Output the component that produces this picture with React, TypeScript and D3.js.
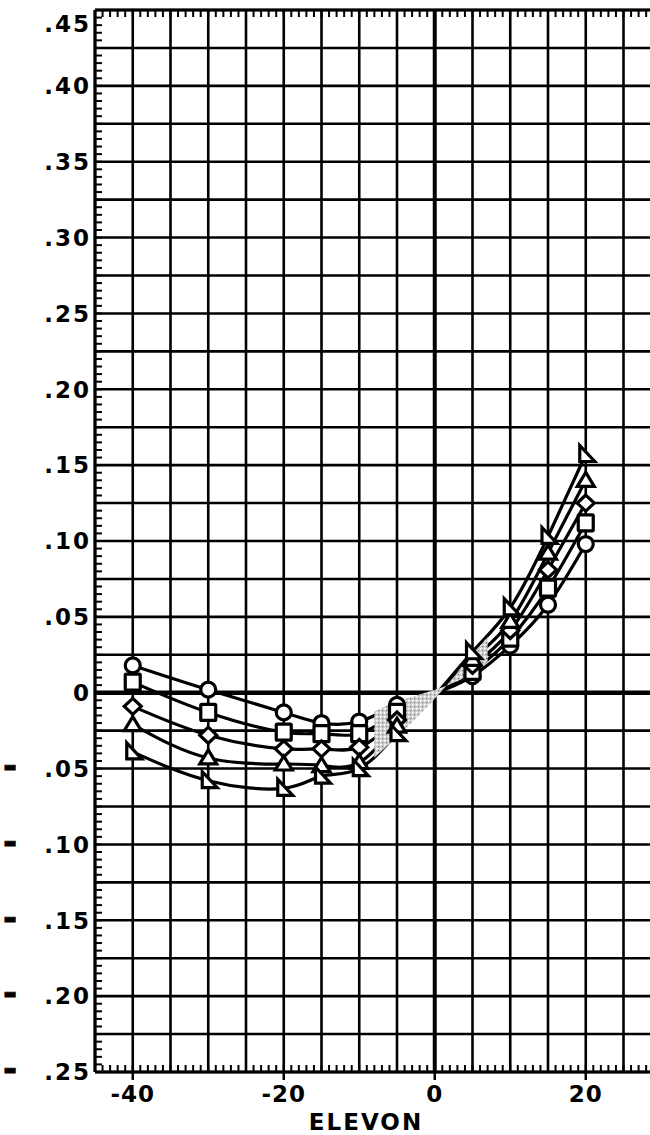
import React from 'react';
import * as d3 from 'd3';

const elevon = [-40, -30, -20, -15, -10, -5, 0, 5, 10, 15, 20];
const circleSeries = [0.018, 0.002, -0.013, -0.02, -0.019, -0.008, 0.0, 0.011, 0.031, 0.058, 0.098];
const squareSeries = [0.007, -0.013, -0.026, -0.027, -0.027, -0.013, -0.001, 0.014, 0.036, 0.069, 0.112];
const diamondSeries = [-0.009, -0.028, -0.037, -0.037, -0.036, -0.018, -0.001, 0.018, 0.041, 0.081, 0.125];
const triangleSeries = [-0.021, -0.043, -0.047, -0.048, -0.046, -0.022, -0.002, 0.022, 0.047, 0.092, 0.14];
const flagSeries = [-0.039, -0.058, -0.063, -0.055, -0.05, -0.027, -0.002, 0.027, 0.056, 0.103, 0.157];

const yTickValues = [0.45, 0.4, 0.35, 0.3, 0.25, 0.2, 0.15, 0.1, 0.05, 0, -0.05, -0.1, -0.15, -0.2, -0.25];
const yTickLabels = ['.45', '.40', '.35', '.30', '.25', '.20', '.15', '.10', '.05', '0', '-.05', '-.10', '-.15', '-.20', '-.25'];
const xTickValues = [-40, -20, 0, 20];
const xTickLabels = ['-40', '-20', '0', '20'];
const xTitle = 'ELEVON';

const W = 650;
const H = 1135;
const LEFT = 95;
const TOP = 10;
const BOTTOM = 1072;

const x = d3.scaleLinear().domain([-45, 30]).range([LEFT, LEFT + 75 * 7.55]);
const y = d3.scaleLinear().domain([-0.25, 0.45]).range([BOTTOM, TOP]);

const FONT = 'DejaVu Sans, sans-serif';

type Shape = 'circle' | 'square' | 'diamond' | 'triangle' | 'flag';

function Marker({ shape, cx, cy }: { shape: Shape; cx: number; cy: number }) {
  const sw = 3.2;
  const common = { fill: 'white', stroke: 'black', strokeWidth: sw };
  if (shape === 'circle') return <circle cx={cx} cy={cy} r={7.5} {...common} />;
  if (shape === 'square') return <rect x={cx - 7.5} y={cy - 8} width={15} height={16} rx={1} {...common} />;
  if (shape === 'diamond')
    return <path d={`M${cx},${cy - 8}L${cx + 8.5},${cy}L${cx},${cy + 8}L${cx - 8.5},${cy}Z`} {...common} />;
  if (shape === 'triangle')
    return <path d={`M${cx},${cy - 8}L${cx + 8.5},${cy + 6}L${cx - 8.5},${cy + 6}Z`} {...common} />;
  return <path d={`M${cx - 6},${cy - 9}L${cx - 6},${cy + 7}L${cx + 9},${cy + 7}Z`} {...common} />;
}

export default function App() {
  const series: { shape: Shape; values: number[] }[] = [
    { shape: 'circle', values: circleSeries },
    { shape: 'square', values: squareSeries },
    { shape: 'diamond', values: diamondSeries },
    { shape: 'triangle', values: triangleSeries },
    { shape: 'flag', values: flagSeries },
  ];
  const line = d3
    .line<[number, number]>()
    .x((d) => x(d[0]))
    .y((d) => y(d[1]))
    .curve(d3.curveNatural);

  const vGrid = d3.range(-45, 31, 5);
  const hGrid = d3.range(-0.25, 0.4501, 0.025);
  const xMinor = d3.range(-45, 31, 1);
  const yMinor = d3.range(-0.25, 0.4501, 0.005);

  const smearIdx = [4, 5, 6, 7, 8];
  const band = d3
    .area<number>()
    .x((i) => x(elevon[i]))
    .y0((i) => y(flagSeries[i]) + 3)
    .y1((i) => y(circleSeries[i]) - 3)
    .curve(d3.curveNatural);

  return (
    <svg width={W} height={H} style={{ position: 'absolute', left: 0, top: 0, background: 'white' }}>
      <defs>
        <pattern id="speck" width="4" height="4" patternUnits="userSpaceOnUse">
          <rect width="4" height="4" fill="#d0d0d0" />
          <rect x="0" y="0" width="1.5" height="1.5" fill="#ffffff" />
          <rect x="2" y="2" width="1.2" height="1.2" fill="#777" />
        </pattern>
        <clipPath id="smearClip">
          <rect x={x(-8)} y={0} width={x(7) - x(-8)} height={H} />
        </clipPath>
      </defs>
      <rect width={W} height={H} fill="white" />
      {vGrid.map((v) => (
        <line key={'v' + v} x1={x(v)} x2={x(v)} y1={y(0.45)} y2={y(-0.25)} stroke="black"
          strokeWidth={Math.abs(v) < 1e-9 ? 4 : 2.6} />
      ))}
      {hGrid.map((v) => (
        <line key={'h' + v.toFixed(3)} x1={LEFT} x2={W + 20} y1={y(v)} y2={y(v)} stroke="black"
          strokeWidth={Math.abs(v) < 1e-9 ? 4.5 : 2.6} />
      ))}
      {yMinor.map((v) => (
        <line key={'ym' + v.toFixed(3)} x1={LEFT} x2={LEFT + 7} y1={y(v)} y2={y(v)} stroke="black" strokeWidth={2} />
      ))}
      {xMinor.map((v) => (
        <g key={'xm' + v}>
          <line x1={x(v)} x2={x(v)} y1={y(0.45)} y2={y(0.45) + 7} stroke="black" strokeWidth={2} />
          <line x1={x(v)} x2={x(v)} y1={y(-0.25)} y2={y(-0.25) - 7} stroke="black" strokeWidth={2} />
        </g>
      ))}
      {xTickValues.map((v) => (
        <line key={'xt' + v} x1={x(v)} x2={x(v)} y1={y(-0.25)} y2={y(-0.25) + 8} stroke="black" strokeWidth={2.5} />
      ))}
      <line x1={LEFT} x2={LEFT} y1={y(0.45)} y2={y(-0.25)} stroke="black" strokeWidth={3} />
      <line x1={LEFT} x2={W + 20} y1={y(0.45)} y2={y(0.45)} stroke="black" strokeWidth={3} />
      <line x1={LEFT} x2={W + 20} y1={y(-0.25)} y2={y(-0.25)} stroke="black" strokeWidth={3} />

      {series.map((s) => (
        <path key={'l' + s.shape} d={line(elevon.map((e, i) => [e, s.values[i]]) as [number, number][]) || ''}
          fill="none" stroke="black" strokeWidth={3.2} />
      ))}
      <g clipPath="url(#smearClip)">
        <path d={band(smearIdx) || ''} fill="url(#speck)" />
      </g>
      {series.map((s) =>
        elevon.map((e, i) =>
          e === 0 ? null : <Marker key={s.shape + e} shape={s.shape} cx={x(e)} cy={y(s.values[i])} />
        )
      )}

      {yTickValues.map((v, i) => {
        const lab = yTickLabels[i];
        const yy = Math.max(y(v), 24) + 8.3;
        const neg = lab.startsWith('-');
        return neg ? (
          <text key={'yl' + i} y={yy} fontFamily={FONT} fontWeight="bold" fontSize={23} letterSpacing={2} fill="black">
            <tspan x={3} textAnchor="start" fontSize={34} stroke="black" strokeWidth={0.8}>-</tspan>
            <tspan x={91} textAnchor="end">{lab.slice(1)}</tspan>
          </text>
        ) : (
          <text key={'yl' + i} x={91} y={yy} textAnchor="end" fontFamily={FONT} fontWeight="bold" fontSize={23}
            letterSpacing={2} fill="black">
            {lab}
          </text>
        );
      })}
      {xTickValues.map((v, i) => (
        <text key={'xl' + i} x={x(v)} y={1102} textAnchor="middle" fontFamily={FONT}
          fontWeight="bold" fontSize={23} letterSpacing={1}>
          {xTickLabels[i]}
        </text>
      ))}
      <text x={366} y={1130} textAnchor="middle" fontFamily={FONT} fontWeight="bold" fontSize={23}
        letterSpacing={2}>
        {xTitle}
      </text>
    </svg>
  );
}
